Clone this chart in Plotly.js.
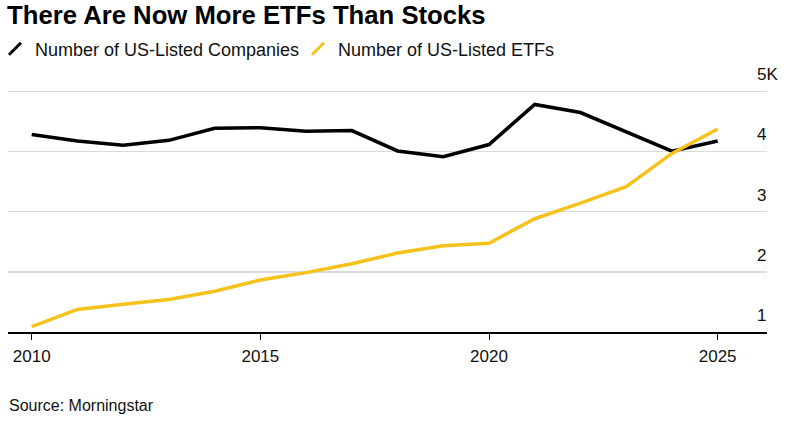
<!DOCTYPE html>
<html>
<head>
<meta charset="utf-8">
<script src="https://cdn.plot.ly/plotly-3.0.1.min.js"></script>
<style>
  html, body { margin: 0; padding: 0; background: #fff; }
  #chart { width: 793px; height: 427px; }
</style>
</head>
<body>
<div id="chart"></div>
<script>
// ---- Data ----
const years = [2010, 2011, 2012, 2013, 2014, 2015, 2016, 2017, 2018, 2019, 2020, 2021, 2022, 2023, 2024, 2025];
const companies = [4283, 4176, 4104, 4186, 4388, 4397, 4339, 4349, 4010, 3915, 4116, 4783, 4648, 4330, 4007, 4176];
const etfs = [1091, 1375, 1461, 1542, 1678, 1863, 1987, 2134, 2313, 2433, 2476, 2883, 3143, 3415, 3969, 4376];
const seriesNames = ["Number of US-Listed Companies", "Number of US-Listed ETFs"];
const xTickVals = [2010, 2015, 2020, 2025];
const yTickVals = [1000, 2000, 3000, 4000, 5000];
const yTickText = ["1", "2", "3", "4", "5K"];
const titleText = "There Are Now More ETFs Than Stocks";
const sourceText = "Source: Morningstar";

const BLACK = "#000000";
const YELLOW = "#f4c21b";
const FONT = "'Liberation Sans', Arial, Helvetica, sans-serif";

const traces = [
  { x: years, y: companies, mode: "lines", name: seriesNames[0], showlegend: false,
    line: { color: BLACK, width: 3.5 }, hoverinfo: "x+y" },
  { x: years, y: etfs, mode: "lines", name: seriesNames[1], showlegend: false,
    line: { color: YELLOW, width: 3.5 }, hoverinfo: "x+y" },
  // legend-only entries with a slanted line icon
  { x: [null], y: [null], mode: "markers", name: seriesNames[0], legend: "legend",
    marker: { symbol: "line-ne", size: 12, line: { color: BLACK, width: 3 } } },
  { x: [null], y: [null], mode: "markers", name: seriesNames[1], legend: "legend2",
    marker: { symbol: "line-ne", size: 12, line: { color: YELLOW, width: 3 } } }
];

const legendBase = {
  orientation: "h",
  xref: "container", yref: "container",
  xanchor: "left",
  y: 1 - 49 / 427, yanchor: "middle",
  font: { family: FONT, size: 18, color: "#111111" },
  bgcolor: "rgba(0,0,0,0)", borderwidth: 0,
  itemwidth: 30,
  indentation: -5
};

const layout = {
  width: 793, height: 427,
  paper_bgcolor: "#ffffff", plot_bgcolor: "#ffffff",
  margin: { l: 8, r: 26, t: 62, b: 95, pad: 0 },
  font: { family: FONT, color: "#111111", size: 17 },
  title: {
    text: "<b>" + titleText + "</b>",
    font: { family: FONT, size: 25.7, color: "#000000" },
    x: 7 / 793, xanchor: "left", xref: "container",
    y: 1 - 15 / 427, yanchor: "middle", yref: "container"
  },
  showlegend: true,
  legend: Object.assign({}, legendBase, { x: 0 }),
  legend2: Object.assign({}, legendBase, { x: 303 / 793 }),
  xaxis: {
    range: [2009.482, 2026.079],
    tickvals: xTickVals,
    ticktext: xTickVals.map(String),
    ticks: "outside", ticklen: 6, tickwidth: 1, tickcolor: "#000000",
    showline: true, linecolor: "#000000", linewidth: 1.5,
    showgrid: false, zeroline: false,
    tickfont: { family: FONT, size: 17, color: "#111111" },
    ticklabelstandoff: 2,
    fixedrange: true
  },
  yaxis: {
    range: [1000, 5397],
    side: "right",
    tickvals: yTickVals,
    ticktext: yTickText,
    ticks: "",
    showline: false,
    showgrid: true, gridcolor: "#dadada", gridwidth: 1.5,
    zeroline: false,
    tickfont: { family: FONT, size: 17, color: "#111111" },
    ticklabelshift: -17,
    ticklabelstandoff: -11,
    fixedrange: true
  },
  annotations: [
    { text: sourceText, xref: "paper", yref: "paper", showarrow: false,
      x: -1 / 759, y: 0, xanchor: "left", yanchor: "middle",
      yshift: -(405 - 332),
      font: { family: FONT, size: 16, color: "#111111" } }
  ]
};

Plotly.newPlot("chart", traces, layout, { displayModeBar: false, staticPlot: true });
</script>
</body>
</html>
